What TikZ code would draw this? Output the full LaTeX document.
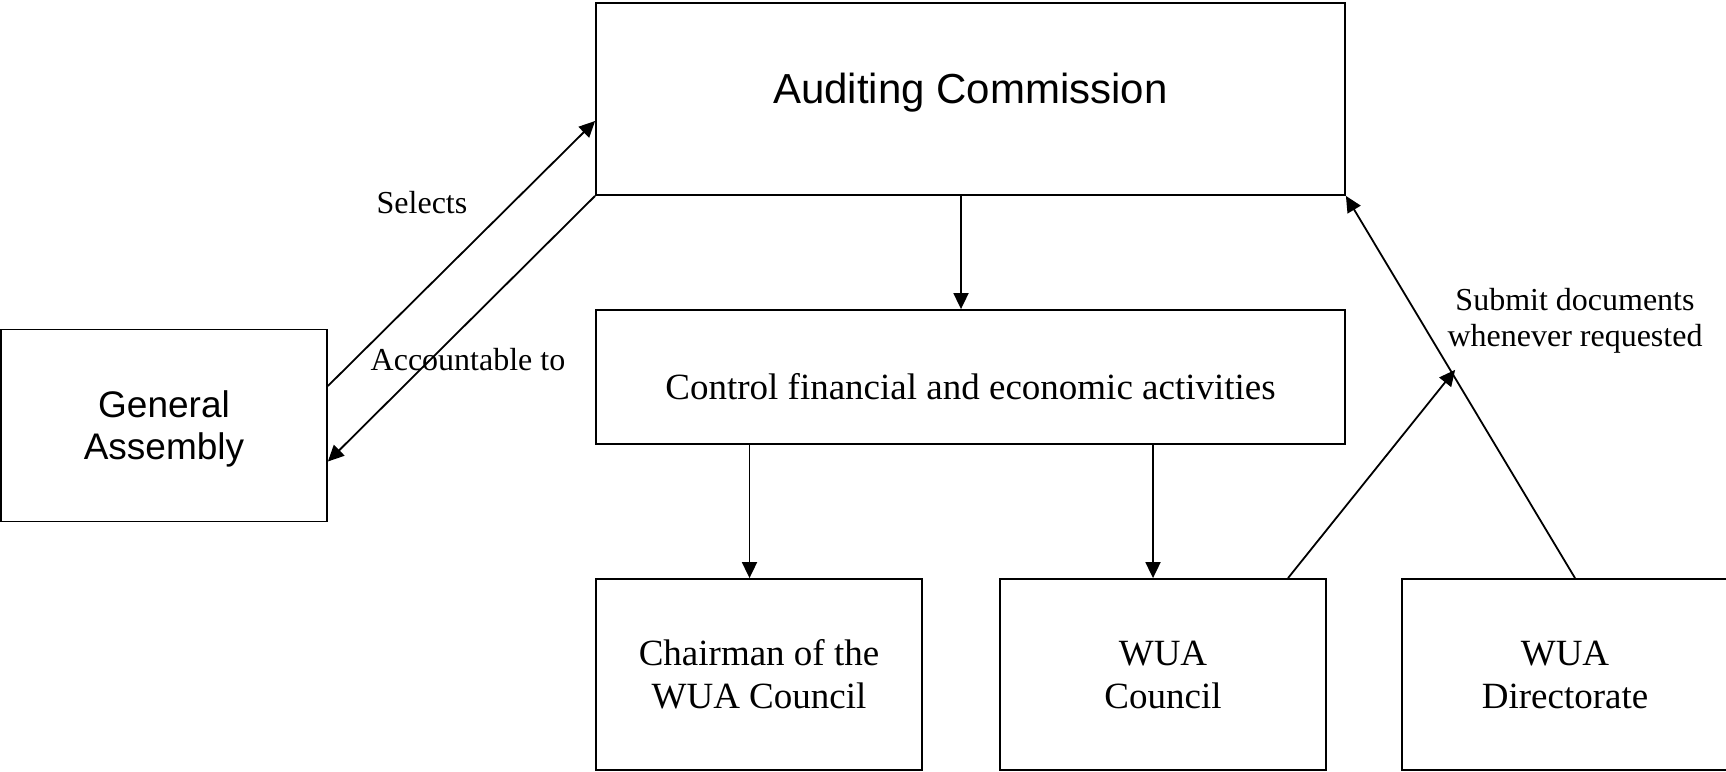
\documentclass[tikz,border=0pt]{standalone}
\usepackage{fontspec}
\setmainfont{Liberation Serif}
\newfontfamily\arialf{Liberation Sans}
\usetikzlibrary{arrows.meta,calc}
\begin{document}
\begin{tikzpicture}[x=1pt,y=-1pt,
  box/.style={draw, line width=1.8pt, rectangle, inner sep=0pt, align=center},
  tbox/.style={box, minimum width=326pt, minimum height=191pt, font=\fontsize{37}{43}\selectfont},
  conn/.style={line width=1.8pt, -{Triangle[length=16pt,width=15pt]}},
  lbl/.style={inner sep=0pt, font=\fontsize{32}{36}\selectfont, align=center}]
\useasboundingbox (0,0) rectangle (1726,771);
\node[box, minimum width=749pt, minimum height=192pt, font=\arialf\fontsize{42}{48}\selectfont, text height=30pt, text depth=22pt] (ac) at (970.5,99) {Auditing Commission};
\node[box, minimum width=749pt, minimum height=134pt, font=\fontsize{37}{43}\selectfont, text height=44pt, text depth=0pt] (ctrl) at (970.5,377) {Control financial and economic activities};
\node[box, minimum width=326pt, minimum height=192pt, font=\arialf\fontsize{37}{42}\selectfont, text height=76.5pt, text depth=7.8pt] (ga) at (164,425.5) {General\\Assembly};
\node[tbox] (ch) at (759,674.5) {Chairman of the\\WUA Council};
\node[tbox] (wc) at (1163,674.5) {WUA\\Council};
\node[tbox] (dir) at (1565,674.5) {WUA\\Directorate};
% connectors
\draw[conn] ([xshift=-9.5pt]ac.south) -- ([xshift=-9.5pt]ctrl.north);
\draw[conn] ([xshift=-9.5pt]ch.north |- ctrl.south) -- ([xshift=-9.5pt]ch.north);
\draw[conn] ([xshift=-10pt]wc.north |- ctrl.south) -- ([xshift=-10pt]wc.north);
\draw[conn] ([yshift=39.5pt]ga.east) -- ([yshift=-22pt]ac.west);
\draw[conn] (ac.south west) -- ([yshift=-36pt]ga.east);
\coordinate (ds) at ([xshift=10pt]dir.north);
\draw[conn] (ds) -- (ac.south east);
\coordinate (m) at ($(ds)!0.545!(ac.south east)+(5,0)$);
\draw[conn] ([xshift=125pt]wc.north) -- (m);
% labels
\node[lbl] (sel) at (422,203) {Selects};
\node[lbl] (acc) at (468,359.7) {Accountable to};
\node[lbl] (sub) at (1575,321) {Submit documents\\whenever requested};
\end{tikzpicture}
\end{document}
